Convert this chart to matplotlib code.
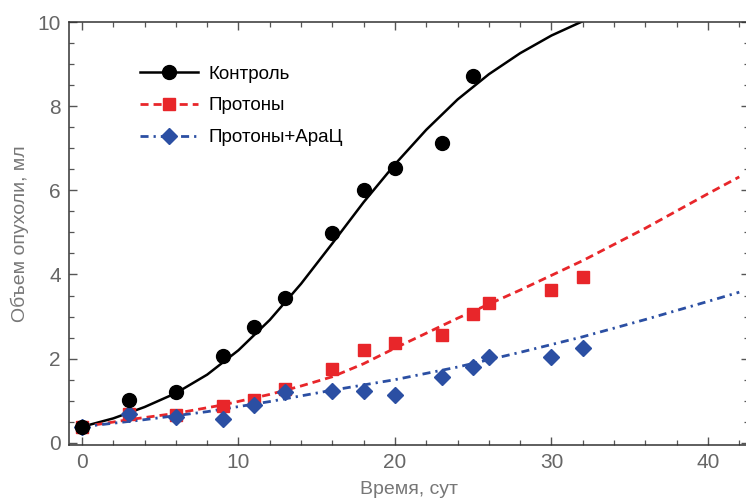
import numpy as np
import matplotlib
matplotlib.use('Agg')
import matplotlib.pyplot as plt
from matplotlib.ticker import MultipleLocator

plt.rcParams['font.family'] = ['Liberation Sans', 'DejaVu Sans']

# measured points
t_ctrl = [0, 3, 6, 9, 11, 13, 16, 18, 20, 23, 25]
v_ctrl = [0.37, 1.02, 1.21, 2.07, 2.76, 3.45, 4.98, 6.0, 6.52, 7.12, 8.71]

t_prot = [0, 3, 6, 9, 11, 13, 16, 18, 20, 23, 25, 26, 30, 32]
v_prot = [0.38, 0.68, 0.66, 0.88, 1.02, 1.27, 1.76, 2.21, 2.38, 2.57, 3.05, 3.33, 3.62, 3.93]

t_arac = [0, 3, 6, 9, 11, 13, 16, 18, 20, 23, 25, 26, 30, 32]
v_arac = [0.38, 0.68, 0.61, 0.56, 0.89, 1.2, 1.23, 1.23, 1.13, 1.56, 1.8, 2.05, 2.05, 2.26]

# fitted curves
fit_t_ctrl = [0, 2, 4, 6, 8, 10, 12, 14, 16, 18, 20, 22, 24, 26, 28, 30, 32, 33]
fit_v_ctrl = [0.38, 0.58, 0.85, 1.18, 1.62, 2.2, 2.92, 3.78, 4.74, 5.72, 6.62,
              7.44, 8.16, 8.76, 9.26, 9.68, 10.02, 10.18]

fit_t_prot = [0, 3, 6, 9, 12, 14, 16, 18, 20, 24, 28, 32, 36, 40, 42]
fit_v_prot = [0.38, 0.55, 0.7, 0.9, 1.15, 1.35, 1.57, 1.88, 2.25, 2.96, 3.63,
              4.33, 5.1, 5.92, 6.32]

fit_t_arac = [0, 4, 8, 12, 16, 20, 24, 28, 32, 36, 40, 42]
fit_v_arac = [0.38, 0.55, 0.74, 0.98, 1.25, 1.5, 1.8, 2.15, 2.52, 2.93, 3.36, 3.58]

fig = plt.figure(figsize=(7.46, 5.01), dpi=100)
ax = fig.add_axes([0.0925, 0.112, 0.9115, 0.844])

black = '#000000'
red = '#e8262a'
blue = '#2b4fa3'
dash = (0, (2.9, 1.8))
dashdot = (0, (2.9, 1.8, 0.8, 1.8))

ax.plot(fit_t_ctrl, fit_v_ctrl, color=black, lw=1.8)
ax.plot(fit_t_prot, fit_v_prot, color=red, lw=2.0, linestyle=dash)
ax.plot(fit_t_arac, fit_v_arac, color=blue, lw=2.0, linestyle=dashdot)

ax.plot(t_ctrl, v_ctrl, 'o', color=black, ms=10, zorder=5)
ax.plot(t_prot, v_prot, 's', color=red, ms=8, zorder=4)
ax.plot(t_arac, v_arac, 'D', color=blue, ms=8, zorder=4)

# legend handles: line + marker
h1, = ax.plot([], [], color=black, lw=1.8, marker='o', ms=10)
h2, = ax.plot([], [], color=red, lw=2.0, linestyle=dash, marker='s', ms=8)
h3, = ax.plot([], [], color=blue, lw=2.0, linestyle=dashdot, marker='D', ms=8)
ax.legend([h1, h2, h3], ['Контроль', 'Протоны', 'Протоны+АраЦ'],
          loc='upper left', bbox_to_anchor=(0.104, 0.897), frameon=False,
          fontsize=13.5, handlelength=3.1, handletextpad=0.55, labelspacing=0.78,
          borderpad=0, borderaxespad=0)

ax.set_xlim(-0.83, 42.62)
ax.set_ylim(-0.05, 10.0)

ax.xaxis.set_major_locator(MultipleLocator(10))
ax.xaxis.set_minor_locator(MultipleLocator(2))
ax.yaxis.set_major_locator(MultipleLocator(2))
ax.yaxis.set_minor_locator(MultipleLocator(0.5))

ax.tick_params(which='both', direction='in', top=True, right=True,
               color='#555555', labelcolor='#666666', labelsize=15)
ax.tick_params(which='major', length=6, width=1, pad=6)
ax.tick_params(which='minor', length=3.5, width=0.9)
for s in ax.spines.values():
    s.set_color('#333333')
    s.set_linewidth(1.1)

ax.set_xlabel('Время, сут', fontsize=14, color='#777777', labelpad=6)
ax.set_ylabel('Объем опухоли, мл', fontsize=14, color='#777777', labelpad=6)

fig.savefig('out.png', dpi=100)
